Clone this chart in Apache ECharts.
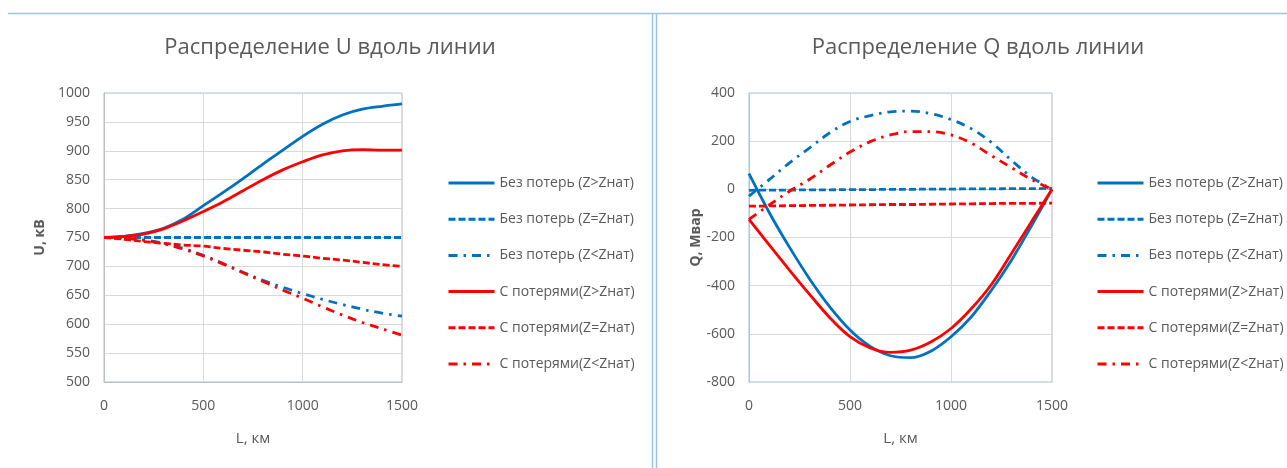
<!DOCTYPE html>
<html>
<head>
<meta charset="utf-8">
<script src="https://cdn.jsdelivr.net/npm/echarts@6/dist/echarts.min.js"></script>
<style>
html,body{margin:0;padding:0;background:#fff;}
#chart{width:1287px;height:468px;}
</style>
</head>
<body>
<div id="chart"></div>
<script>
// ---- data ----
const distancesKm = [0,100,200,300,400,500,600,700,800,900,1000,1100,1200,1300,1400,1500];
const seriesNames = ['Без потерь (Z>Zнат)','Без потерь (Z=Zнат)','Без потерь (Z<Zнат)','С потерями(Z>Zнат)','С потерями(Z=Zнат)','С потерями(Z<Zнат)'];
const titleU = 'Распределение U вдоль линии';
const titleQ = 'Распределение Q вдоль линии';
const axisNameU = 'U, кВ';
const axisNameQ = 'Q, Мвар';
const axisNameL = 'L, км';

// Voltage U, kV
const uLosslessHigh = [750,752,757,766,782,805,828,852,877,901,925,946,962,972,977,981];
const uLosslessNat  = [750,750,750,750,750,750,750,750,750,750,750,750,750,750,750,750];
const uLosslessLow  = [750,749,746,740,731,719,705,690,676,664,653,643,634,626,619,614];
const uLossyHigh    = [750,752,756,765,779,795,812,831,850,867,881,893,900,902,901,901];
const uLossyNat     = [750,747,743,740,737,735,731,728,725,721,718,714,711,707,703,700];
const uLossyLow     = [750,749,745,739,730,718,704,689,674,659,645,630,616,603,592,581];

// Reactive power Q, Mvar
const qLosslessHigh = [65,-96,-240,-372,-488,-584,-652,-691,-699,-672,-612,-530,-419,-293,-149,0];
const qLosslessNat  = [-4,-3,-3,-2,-2,-1,-1,0,0,1,1,2,2,3,3,4];
const qLosslessLow  = [-28,40,110,172,235,282,306,322,325,314,290,252,195,120,50,0];
const qLossyHigh    = [-125,-231,-335,-436,-533,-612,-659,-677,-668,-634,-578,-496,-395,-265,-132,0];
const qLossyNat     = [-70,-69,-68,-67,-66,-65,-64,-63,-63,-62,-61,-60,-59,-58,-58,-57];
const qLossyLow     = [-125,-65,-8,42,100,155,198,226,240,240,226,192,140,90,40,0];

const uSets = [uLosslessHigh,uLosslessNat,uLosslessLow,uLossyHigh,uLossyNat,uLossyLow];
const qSets = [qLosslessHigh,qLosslessNat,qLosslessLow,qLossyHigh,qLossyNat,qLossyLow];

// ---- styles ----
const BLUE = '#0070C0', RED = '#FF0000';
const TXT = '#595959';
const FONT = "'Open Sans', 'Liberation Sans', sans-serif";
const styles = [
  {color: BLUE, type: 'solid'},
  {color: BLUE, type: [7,3]},
  {color: BLUE, type: [9,6,2.5,6]},
  {color: RED, type: 'solid'},
  {color: RED, type: [7,3]},
  {color: RED, type: [9,6,2.5,6]}
];

function makeSeries(sets, idx) {
  return sets.map((arr, i) => ({
    name: seriesNames[i],
    type: 'line',
    xAxisIndex: idx, yAxisIndex: idx,
    data: distancesKm.map((d, k) => [d, arr[k]]),
    smooth: 0.35,
    symbol: 'none',
    lineStyle: {color: styles[i].color, type: styles[i].type, width: 2.8, cap: 'butt'},
    itemStyle: {color: styles[i].color},
    emphasis: {disabled: true},
    animation: false
  }));
}

const plainNum = v => String(v);

function xAxis(idx, lineColor) {
  return {
    type: 'value', gridIndex: idx, min: 0, max: 1500, interval: 500,
    name: axisNameL, nameLocation: 'middle', nameGap: 49,
    nameTextStyle: {color: TXT, fontSize: 15, fontFamily: FONT},
    axisLine: {show: true, lineStyle: {color: lineColor, width: 1}},
    axisTick: {show: false},
    axisLabel: {color: TXT, fontSize: 14, fontFamily: FONT, margin: 17, formatter: plainNum},
    splitLine: {show: true, lineStyle: {color: '#D9D9D9', width: 1}}
  };
}
function yAxis(idx, min, max, interval, name, gap) {
  return {
    type: 'value', gridIndex: idx, min: min, max: max, interval: interval,
    name: name, nameLocation: 'middle', nameGap: gap, nameRotate: 90,
    nameTextStyle: {color: TXT, fontSize: 14, fontWeight: 'bold', fontFamily: FONT},
    axisLine: {show: true, lineStyle: {color: '#BFBFBF', width: 1}},
    axisTick: {show: false},
    axisLabel: {color: TXT, fontSize: 14, fontFamily: FONT, margin: 14, formatter: plainNum},
    splitLine: {show: true, lineStyle: {color: '#D9D9D9', width: 1}}
  };
}
function legend(left) {
  return {
    orient: 'vertical', left: left, top: 176, padding: 0,
    itemWidth: 46, itemHeight: 14, itemGap: 22.2,
    data: seriesNames,
    itemStyle: {opacity: 0},
    lineStyle: {width: 3},
    textStyle: {color: TXT, fontSize: 14, fontFamily: FONT, lineHeight: 14},
    selectedMode: false
  };
}

const chart = echarts.init(document.getElementById('chart'), null, {renderer: 'canvas'});
chart.setOption({
  backgroundColor: '#fff',
  animation: false,
  title: [
    {text: titleU, left: 330, top: 37, textAlign: 'center', padding: 0,
     textStyle: {color: TXT, fontSize: 22, fontWeight: 'normal', fontFamily: FONT}},
    {text: titleQ, left: 978, top: 37, textAlign: 'center', padding: 0,
     textStyle: {color: TXT, fontSize: 22, fontWeight: 'normal', fontFamily: FONT}}
  ],
  legend: [legend(447), legend(1096)],
  grid: [
    {left: 104, top: 93, width: 298, height: 289, show: true, borderColor: '#9DC3E6', borderWidth: 1, backgroundColor: 'transparent'},
    {left: 749, top: 93, width: 303, height: 289, show: true, borderColor: '#9DC3E6', borderWidth: 1, backgroundColor: 'transparent'}
  ],
  xAxis: [xAxis(0, '#BFBFBF'), xAxis(1, '#9DC3E6')],
  yAxis: [yAxis(0, 500, 1000, 50, axisNameU, 57), yAxis(1, -800, 400, 200, axisNameQ, 30)],
  graphic: [
    {type: 'line', shape: {x1: 8, y1: 13.5, x2: 1287, y2: 13.5}, style: {stroke: '#9DC3E6', lineWidth: 1.5}, silent: true},
    {type: 'line', shape: {x1: 652.5, y1: 13, x2: 652.5, y2: 468}, style: {stroke: '#9DC3E6', lineWidth: 1.5}, silent: true},
    {type: 'line', shape: {x1: 656.5, y1: 13, x2: 656.5, y2: 468}, style: {stroke: '#9DC3E6', lineWidth: 1.5}, silent: true}
  ],
  series: makeSeries(uSets, 0).concat(makeSeries(qSets, 1))
});
</script>
</body>
</html>
